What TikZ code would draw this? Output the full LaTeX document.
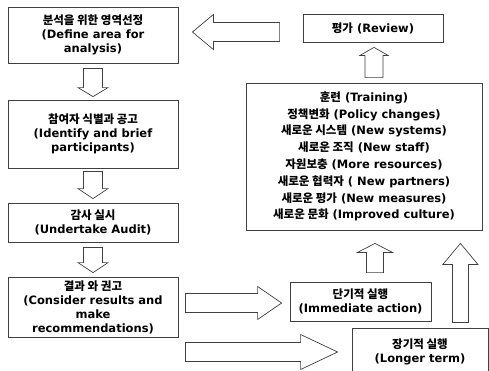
\documentclass[tikz,border=0pt]{standalone}
\usepackage{fontspec}
\setmainfont{DejaVu Sans}
\newfontfamily\kr{Noto Sans CJK KR}
\usetikzlibrary{calc}
\newcommand{\K}[1]{{\kr #1}}
% block arrow: start, tip, shaft half width, head half width, head length
\newcommand{\blkarrow}[5]{%
  \coordinate (ba-s) at #1;
  \coordinate (ba-t) at #2;
  \coordinate (ba-b) at ($(ba-t)!#5!(ba-s)$);
  \draw[blkline] ($(ba-s)!#3!90:(ba-t)$) -- ($(ba-b)!#3!90:(ba-t)$) --
    ($(ba-b)!#4!90:(ba-t)$) -- (ba-t) -- ($(ba-b)!#4!-90:(ba-t)$) --
    ($(ba-b)!#3!-90:(ba-t)$) -- ($(ba-s)!#3!-90:(ba-t)$) -- cycle;
}
\begin{document}
\begin{tikzpicture}[x=1pt,y=-1pt,
  box/.style={draw=black!75, line width=0.8pt, align=center, inner sep=2pt,
    font=\bfseries\fontsize{11.5}{14}\selectfont},
  bigbox/.style={box, font=\bfseries\fontsize{11.5}{16.8}\selectfont},
  blkline/.style={draw=black!75, line width=0.7pt, fill=white, line join=miter}]
\useasboundingbox (0,0) rectangle (489,370);
\clip (0,0) rectangle (489,370);
\fill[white] (0,0) rectangle (489,370);

% left column
\node[box, minimum width=170pt, minimum height=56pt] (b1) at (93,35)
  {\K{분석을 위한 영역선정}\\(Define area for\\analysis)};
\node[box, minimum width=170pt, minimum height=68pt] (b2) at (93,134)
  {\K{참여자 식별과 공고}\\(Identify and brief\\participants)};
\node[box, minimum width=170pt, minimum height=39pt] (b3) at (93,222.5)
  {\K{감사 실시}\\(Undertake Audit)};
\node[box, minimum width=170pt, minimum height=60pt] (b4) at (93,307)
  {\K{결과 와 권고}\\(Consider results and\\make\\recommendations)};

% right column
\node[box, minimum width=140pt, minimum height=28pt] (review) at (373,28)
  {\K{평가} (Review)};
\node[bigbox, minimum width=236pt, minimum height=147pt] (big) at (364,156.5)
  {\K{훈련} (Training)\\
   \K{정책변화} (Policy changes)\\
   \K{새로운 시스템} (New systems)\\
   \K{새로운 조직} (New staff)\\
   \K{자원보충} (More resources)\\
   \K{새로운 협력자} ( New partners)\\
   \K{새로운 평가} (New measures)\\
   \K{새로운 문화} (Improved culture)};
\node[box, minimum width=141pt, minimum height=39pt] (imm) at (360.5,301.5)
  {\K{단기적 실행}\\(Immediate action)};
\node[box, minimum width=136pt, minimum height=48pt] (longer) at (420,352)
  {\K{장기적 실행}\\(Longer term)};

% block arrows
\blkarrow{($(b1.south)+(0,5)$)}{($(b2.north)+(0,-3)$)}{9.5pt}{15pt}{9pt}
\blkarrow{($(b2.south)+(0,3)$)}{($(b3.north)+(0,-4)$)}{9.5pt}{15pt}{10pt}
\blkarrow{($(b3.south)+(0,5)$)}{($(b4.north)+(0,-4)$)}{9.5pt}{15pt}{10pt}
\blkarrow{($(review.west)+(-23,4)$)}{($(b1.east)+(14,-3)$)}{9.5pt}{17.5pt}{21pt}
\blkarrow{($(big.north)+(10,-5)$)}{($(review.south)+(1,5)$)}{9pt}{14pt}{8pt}
\blkarrow{($(imm.north)+(14.5,-9)$)}{($(big.south)+(11,13)$)}{8.5pt}{17.5pt}{9pt}
\blkarrow{($(big.south east)+(-22,92)$)}{($(big.south east)+(-22,13)$)}{8pt}{17.5pt}{21pt}
\blkarrow{($(b4.east)+(7,-4)$)}{($(imm.west)+(-8,1.5)$)}{9.5pt}{16.5pt}{24pt}
\blkarrow{($(b4.east)+(7,45)$)}{($(longer.west)+(-14,0)$)}{9.5pt}{17.5pt}{37pt}
\end{tikzpicture}
\end{document}
